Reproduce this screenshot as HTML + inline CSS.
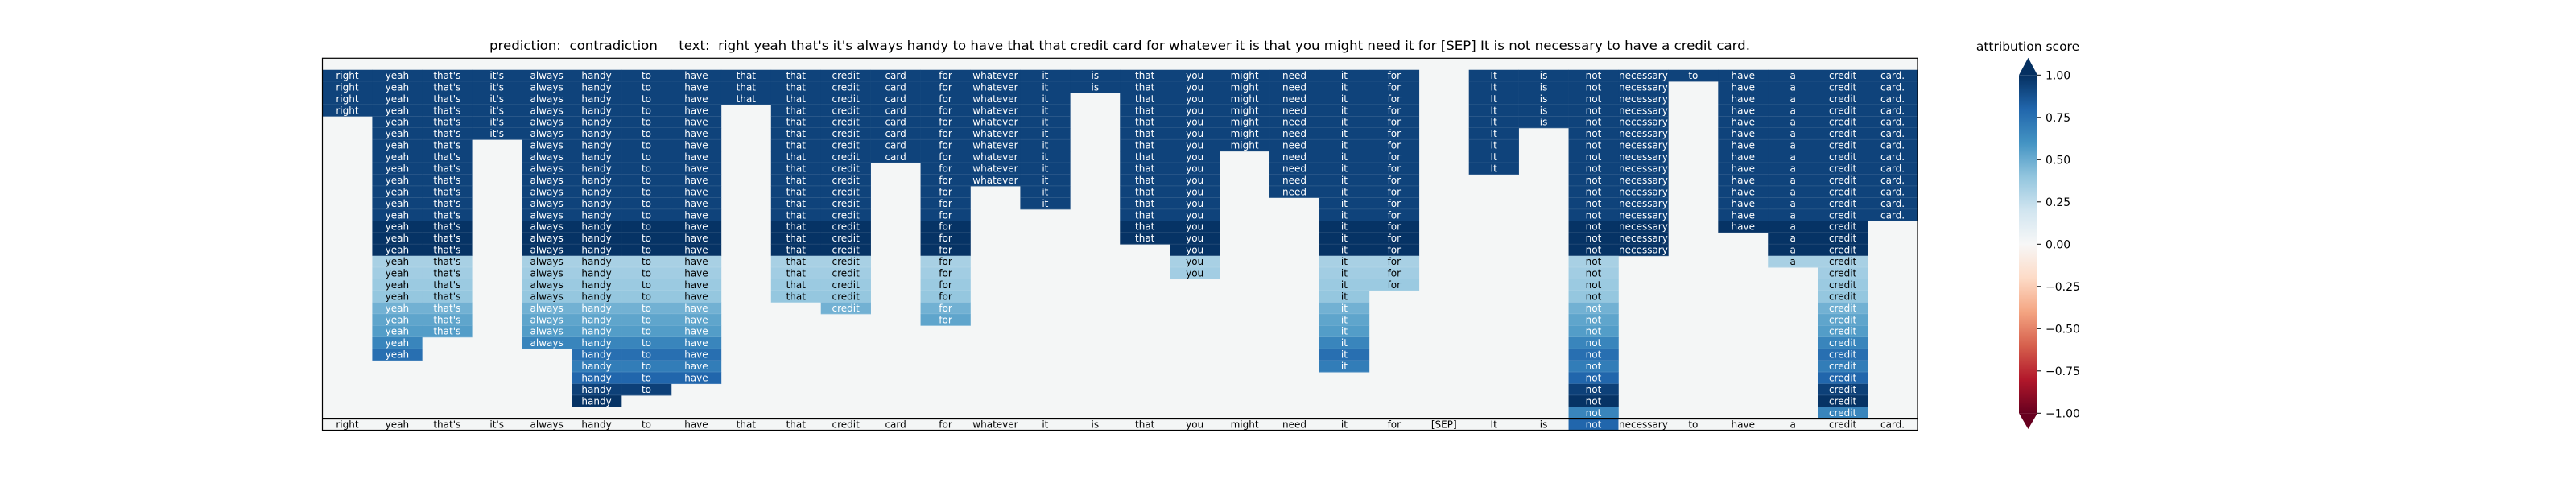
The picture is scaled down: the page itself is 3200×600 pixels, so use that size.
<!DOCTYPE html>
<html><head><meta charset="utf-8"><style>
html,body{margin:0;padding:0;background:#fff;width:3200px;height:600px;overflow:hidden}
svg text{font-family:"DejaVu Sans","Liberation Sans",sans-serif}
</style></head><body>
<svg id="chart" width="3200" height="600" viewBox="0 0 3200 600" xmlns="http://www.w3.org/2000/svg">
<text x="1391" y="62" font-size="16" text-anchor="middle" textLength="1566" lengthAdjust="spacingAndGlyphs" fill="#000" xml:space="preserve" style="white-space:pre">prediction:  contradiction     text:  right yeah that's it's always handy to have that that credit card for whatever it is that you might need it for [SEP] It is not necessary to have a credit card.</text>
<g id="plot"></g>
<g id="cbar"></g>
</svg>
<script>
const tokens = ["right","yeah","that's","it's","always","handy","to","have","that","that","credit","card","for","whatever","it","is","that","you","might","need","it","for","[SEP]","It","is","not","necessary","to","have","a","credit","card."];
const tokenRowCount = [4,25,23,6,24,29,28,27,3,20,21,8,22,10,12,2,15,18,7,11,26,19,0,9,5,30,16,1,14,17,30,13];
const rowScores = [0.93,0.93,0.93,0.93,0.93,0.93,0.93,0.93,0.93,0.93,0.93,0.93,0.93,0.99,0.99,0.99,0.33,0.35,0.37,0.39,0.48,0.53,0.56,0.66,0.76,0.7,0.8,0.94,0.99,0.66];
const finalScores = tokens.map(t => t === "not" ? 0.8 : 0);
const cbarTicks = [1,0.75,0.5,0.25,0,-0.25,-0.5,-0.75,-1];
const cbarLabels = ["1.00","0.75","0.50","0.25","0.00","\u22120.25","\u22120.50","\u22120.75","\u22121.00"];

const NS = "http://www.w3.org/2000/svg";
const X0 = 400.5, X1 = 2382, Y0 = 72.3, Y1 = 534.5;
const nRows = rowScores.length + 2;
const cw = (X1 - X0) / tokens.length, rh = (Y1 - Y0) / nRows;
const xCol = i => X0 + i * cw;
const yRow = r => Y0 + r * rh;

const stops = ["#67001f","#b2182b","#d6604d","#f4a582","#fddbc7","#f7f7f7","#d1e5f0","#92c5de","#4393c3","#2166ac","#053061"];
function hex(c){return [1,3,5].map(i=>parseInt(c.substr(i,2),16));}
function cmap(v){
  let t = (Math.max(-1,Math.min(1,v)) + 1) / 2 * 10;
  let i = Math.min(9, Math.floor(t)), f = t - i;
  const a = hex(stops[i]), b = hex(stops[i+1]);
  return "rgb(" + a.map((x,k)=>Math.round(x + (b[k]-x)*f)).join(",") + ")";
}
function el(tag, attrs, parent){
  const e = document.createElementNS(NS, tag);
  for (const k in attrs) e.setAttribute(k, attrs[k]);
  parent.appendChild(e); return e;
}
const plot = document.getElementById("plot");
el("rect",{x:X0,y:Y0,width:X1-X0,height:Y1-Y0,fill:"#f4f6f6"},plot);

rowScores.forEach((s, ri) => {
  const r = ri + 1;
  tokens.forEach((tok, ci) => {
    if (tokenRowCount[ci] < r) return;
    const rect = el("rect",{x:xCol(ci),y:yRow(r),width:cw+0.3,height:rh+0.3,fill:cmap(s)},plot);
    
    
    el("line",{x1:xCol(ci),x2:xCol(ci)+cw,y1:yRow(r)+rh,y2:yRow(r)+rh,stroke:"rgba(255,255,255,0.2)","stroke-width":1},plot);
    const tx = el("text",{x:xCol(ci)+cw/2,y:yRow(r)+rh/2+4,"font-size":12,"text-anchor":"middle",fill:(s>0.45?"#fff":"#000")},plot);
    tx.textContent = tok;
    
    
  });
});
const rf = nRows - 1;
tokens.forEach((tok, ci) => {
  const s = finalScores[ci];
  const rect = el("rect",{x:xCol(ci),y:yRow(rf),width:cw+0.3,height:rh,fill:(s===0?"#f4f6f6":cmap(s))},plot);
  
  
  const tx = el("text",{x:xCol(ci)+cw/2,y:yRow(rf)+rh/2+4,"font-size":12,"text-anchor":"middle",fill:(s>0.45?"#fff":"#000")},plot);
  tx.textContent = tok;
  
  
});
el("line",{x1:X0,x2:X1,y1:yRow(rf),y2:yRow(rf),stroke:"#000","stroke-width":2.2},plot);
const border = el("rect",{x:X0,y:Y0,width:X1-X0,height:Y1-Y0,fill:"none",stroke:"#000","stroke-width":1.2},plot);



// colorbar
const cb = document.getElementById("cbar");
const CX0 = 2508, CX1 = 2531, CT = 93.3, CB = 513.3;
const yC = v => CT + (1 - v) / 2 * (CB - CT);
const defs = el("defs",{},cb);
const grad = el("linearGradient",{id:"rdbu",x1:0,y1:1,x2:0,y2:0},defs);
stops.forEach((c,i)=>el("stop",{offset:(i/10),"stop-color":c},grad));
const bar = el("rect",{x:CX0,y:CT,width:CX1-CX0,height:CB-CT,fill:"url(#rdbu)"},cb);


const upTri = el("polygon",{points:`${CX0},${CT} ${CX1},${CT} ${(CX0+CX1)/2},71.7`,fill:stops[10]},cb);


const dnTri = el("polygon",{points:`${CX0},${CB} ${CX1},${CB} ${(CX0+CX1)/2},533`,fill:stops[0]},cb);


cbarTicks.forEach((v,i)=>{
  el("line",{x1:CX1,x2:CX1+4,y1:yC(v),y2:yC(v),stroke:"#000","stroke-width":1},cb);
  const t = el("text",{x:CX1+10,y:yC(v)+5,"font-size":14,fill:"#000"},cb);
  t.textContent = cbarLabels[i];
  
  
});
const ct = el("text",{x:2519,y:63,"font-size":15.5,"text-anchor":"middle",fill:"#000"},cb);
ct.textContent = "attribution score";


</script>
</body></html>
